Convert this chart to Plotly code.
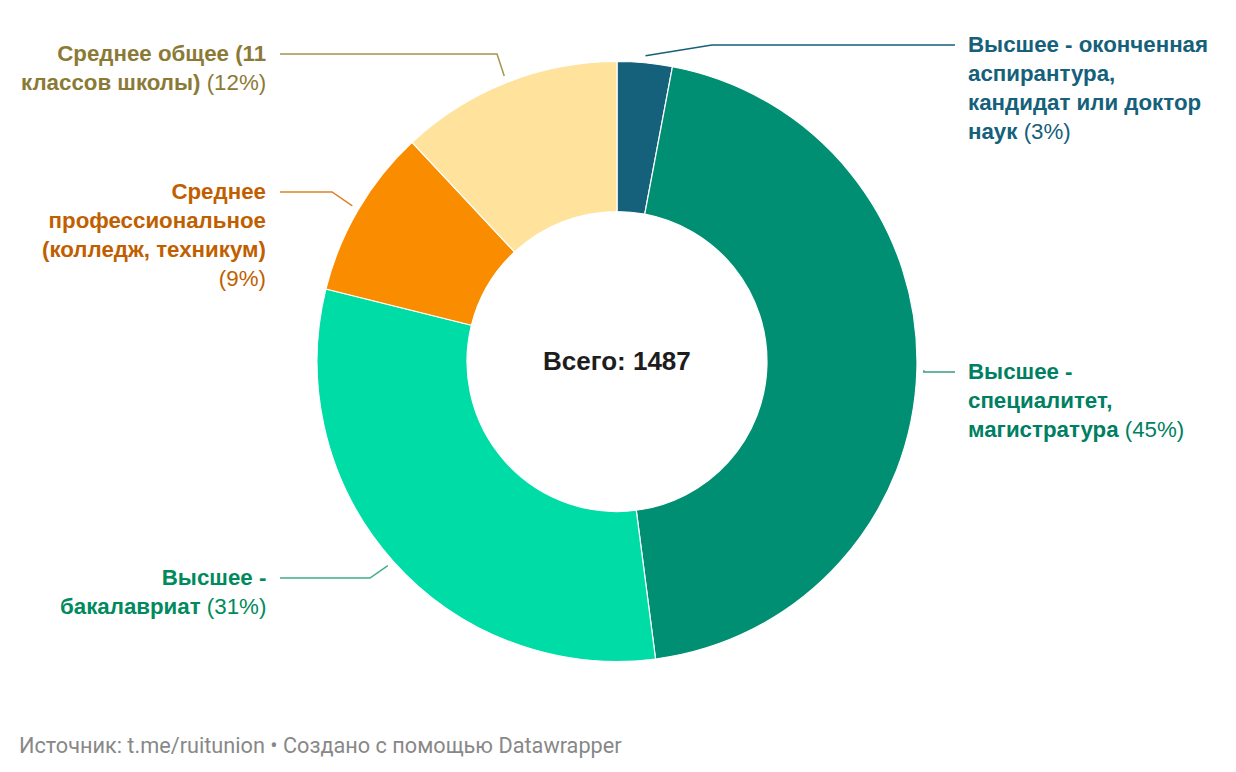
import math
import plotly.graph_objects as go

# ---------------- data ----------------
categories = [
    "Высшее - оконченная аспирантура, кандидат или доктор наук",
    "Высшее - специалитет, магистратура",
    "Высшее - бакалавриат",
    "Среднее профессиональное (колледж, техникум)",
    "Среднее общее (11 классов школы)",
]
counts = [44, 669, 460, 136, 178]
label_lines = [
    ["Высшее - оконченная", "аспирантура,", "кандидат или доктор", "наук"],
    ["Высшее -", "специалитет,", "магистратура"],
    ["Высшее -", "бакалавриат"],
    ["Среднее", "профессиональное", "(колледж, техникум)", ""],
    ["Среднее общее (11", "классов школы)"],
]
total_text = "Всего: 1487"
source_text = "Источник: t.me/ruitunion • Создано с помощью Datawrapper"

# ---------------- style ----------------
slice_colors = ["#15607a", "#008f72", "#00dca6", "#fa8c00", "#ffe39c"]
text_colors = ["#15607a", "#007f62", "#008a5e", "#c15f00", "#8b7a36"]
line_colors = ["#15607a", "#3a9a85", "#3fae86", "#d9822a", "#a5954e"]

W, H = 1236, 772
cx, cy, R = 617, 361.5, 300
FS = 22.3
LABEL_FONT = "Liberation Sans, Arial, sans-serif"
# side, y of first label line (px), elbow x (None = straight)
label_layout = [
    ("right", 45, 712),
    ("right", 372, None),
    ("left", 578, 370),
    ("left", 192, 332),
    ("left", 54, 497),
]

def px(x):
    return x / W

def py(y):
    return 1 - y / H

total = sum(counts)
fig = go.Figure(
    go.Pie(
        labels=categories,
        values=counts,
        sort=False,
        direction="clockwise",
        rotation=0,
        hole=0.5,
        textinfo="none",
        hoverinfo="label+percent",
        marker=dict(colors=slice_colors, line=dict(color="white", width=1.2)),
        domain=dict(x=[px(cx - R), px(cx + R)], y=[py(cy + R), py(cy - R)]),
        showlegend=False,
    )
)

shapes = []
annotations = []
cum = 0
for i, c in enumerate(counts):
    mid = (cum + c / 2) / total * 2 * math.pi
    cum += c
    side, ly, ex = label_layout[i]
    r0 = R + 7
    sx = cx + r0 * math.sin(mid)
    sy = cy - r0 * math.cos(mid)
    if ex is None:
        ex = sx
    ey = ly
    endx = 955 if side == "right" else 280
    path = f"M {px(sx)} {py(sy)} L {px(ex)} {py(ey)} L {px(endx)} {py(ey)}"
    shapes.append(dict(type="path", xref="paper", yref="paper", path=path,
                       line=dict(color=line_colors[i], width=1.5)))
    pct = round(100 * c / total)
    lines = [f"<b>{t}</b>" if t else "" for t in label_lines[i]]
    if lines[-1] == "":
        lines[-1] = f"({pct}%)"
    else:
        lines[-1] = lines[-1] + f" ({pct}%)"
    text = "<br>".join(lines)
    annotations.append(dict(
        x=px(966 if side == "right" else 268), y=py(ly - 15),
        xref="paper", yref="paper",
        xanchor="left" if side == "right" else "right", yanchor="top",
        align="left" if side == "right" else "right",
        text=text, showarrow=False,
        font=dict(family=LABEL_FONT, size=FS, color=text_colors[i]),
    ))

annotations.append(dict(
    x=px(cx), y=py(cy - 1), xref="paper", yref="paper",
    text=f"<b>{total_text}</b>", showarrow=False,
    font=dict(family=LABEL_FONT, size=26, color="#1d1d1d"),
))
annotations.append(dict(
    x=px(17), y=py(745), xref="paper", yref="paper",
    xanchor="left", yanchor="middle",
    text=source_text, showarrow=False,
    font=dict(family="Roboto", size=21.7, color="#888888"),
))

fig.update_layout(
    width=W, height=H,
    margin=dict(l=0, r=0, t=0, b=0),
    paper_bgcolor="white", plot_bgcolor="white",
    shapes=shapes, annotations=annotations,
)

fig.write_html("out.html", config={"displayModeBar": False})
with open("out.html", encoding="utf-8") as f:
    html = f.read()
html = html.replace("<body>", '<body style="margin:0;padding:0;overflow:hidden">', 1)
with open("out.html", "w", encoding="utf-8") as f:
    f.write(html)
